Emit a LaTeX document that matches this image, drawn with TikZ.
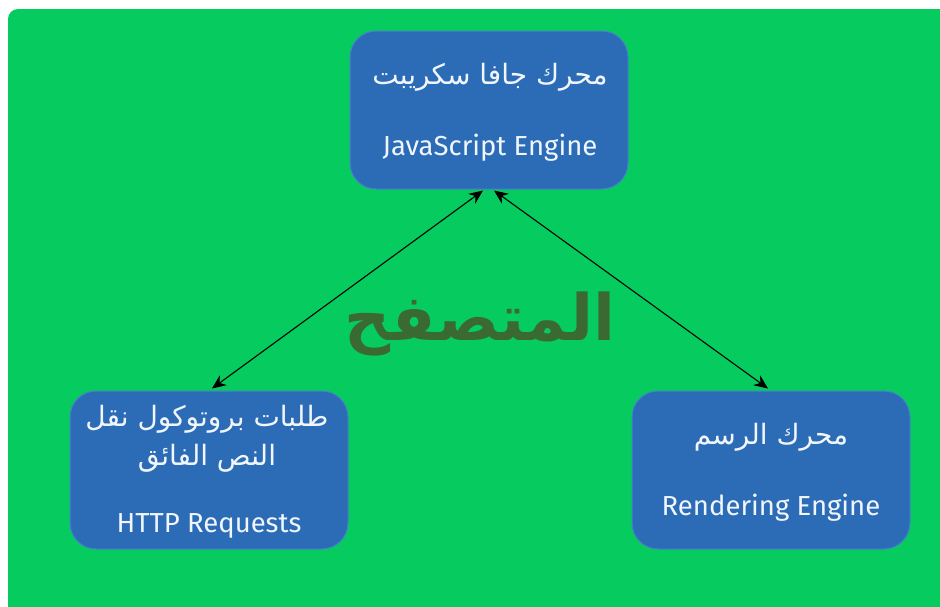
\documentclass[tikz,border=0pt]{standalone}
\usepackage{fontspec}
\setmainfont{Fira Sans}
\newfontfamily\arabicfont[Script=Arabic]{DejaVu Sans}
\TeXXeTstate=1
\usetikzlibrary{arrows.meta,calc}
\definecolor{bggreen}{RGB}{6,204,96}
\definecolor{boxblue}{RGB}{44,108,182}
\definecolor{boxedge}{RGB}{70,130,200}
\definecolor{titlegreen}{RGB}{58,106,50}
\definecolor{boxtext}{RGB}{240,246,252}
\tikzset{
  engine/.style={draw=boxedge, line width=1pt, fill=boxblue, rounded corners=26pt,
    minimum width=278pt, minimum height=158pt, inner sep=0pt},
  artext/.style={text=boxtext, font=\arabicfont\fontsize{28}{34}\selectfont, align=center, inner sep=0pt},
  entext/.style={text=boxtext, font=\fontsize{27.5}{32}\selectfont, inner sep=0pt},
  link/.style={black, line width=1.1pt, {Stealth[length=14pt,width=12pt]}-{Stealth[length=14pt,width=12pt]}}
}
\begin{document}
\begin{tikzpicture}[x=1pt,y=-1pt]
  \useasboundingbox (0,0) rectangle (940,606);
  \fill[white] (0,0) rectangle (940,606);
  % page background panel
  \fill[bggreen, rounded corners=10pt] (8,9) rectangle (960,626);

  % the three engines
  \node[engine] (js) at (489,110) {};
  \node[engine] (http) at (209,470) {};
  \node[engine] (render) at (771,470) {};

  \node[artext] (jsar) at (490,77) {\beginR محرك جافا سكريبت\endR};
  \node[entext] (jsen) at (490,148) {JavaScript Engine};

  \node[artext] (httpar1) at (207,419) {\beginR طلبات بروتوكول نقل\endR};
  \node[artext] (httpar2) at (207,458) {\beginR النص الفائق\endR};
  \node[entext] (httpen) at (209,526) {HTTP Requests};

  \node[artext] (renderar) at (771,437) {\beginR محرك الرسم\endR};
  \node[entext] (renderen) at (771,508) {Rendering Engine};

  % centre title
  \node[text=titlegreen, font=\arabicfont\bfseries\fontsize{64}{72}\selectfont, inner sep=0pt] (title) at (480,324) {\beginR المتصفح\endR};

  % connectors
  \coordinate (jsl) at ($(js.south)+(-6,1)$);
  \coordinate (jsr) at ($(js.south)+(5,1)$);
  \coordinate (httptop) at ($(http.north)+(3,-2)$);
  \coordinate (rendertop) at ($(render.north)+(-3,-2)$);
  \draw[link] (jsl) -- (httptop);
  \draw[link] (jsr) -- (rendertop);
\end{tikzpicture}
\end{document}
